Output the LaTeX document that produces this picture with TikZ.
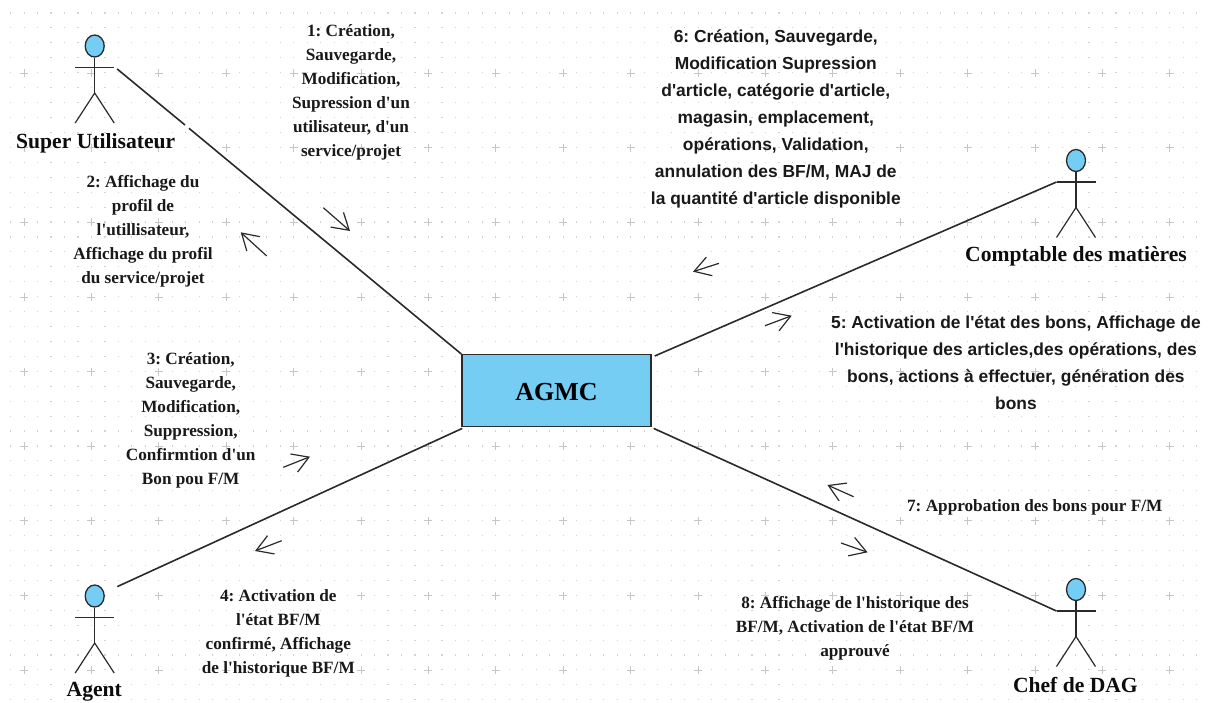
\documentclass[tikz,border=0pt]{standalone}
\usepackage{fontspec}
\setmainfont{Liberation Serif}
\newfontfamily\arialfont{Liberation Sans}
\usetikzlibrary{shapes.geometric,arrows.meta}
\definecolor{actorblue}{HTML}{76CDF4}
\definecolor{inkline}{HTML}{2A2A2A}
\definecolor{griddot}{HTML}{D2D2D2}
\definecolor{gridcross}{HTML}{C6C6C6}
\newcommand{\sq}{\textquotesingle}
\tikzset{
  x=1pt,y=-1pt,
  actorhead/.style={ellipse,draw=inkline,fill=actorblue,line width=1.3pt,minimum width=19pt,minimum height=22pt,inner sep=0pt},
  actorlimb/.style={draw=inkline,line width=1.2pt},
  actorname/.style={font=\fontsize{21.6}{24}\selectfont\bfseries,text=black!95,inner sep=0pt},
  linkline/.style={draw=inkline,line width=1.6pt},
  flow/.style={draw=inkline,line width=1.2pt,-{Straight Barb[length=16pt,width=19.5pt,line width=1.2pt]}},
  serifnote/.style={align=center,inner sep=0pt,text=black!90,font=\frenchspacing\fontsize{17.2}{24}\selectfont\bfseries},
  sansnote/.style={align=center,inner sep=0pt,text=black!90,font=\frenchspacing\arialfont\fontsize{17.4}{27}\selectfont\bfseries},
  system/.style={draw=inkline,fill=actorblue,line width=1.4pt,minimum width=189pt,minimum height=72pt,inner sep=0pt,font=\fontsize{26}{30}\selectfont\bfseries},
  pics/actor/.style={code={
    \node[actorhead] (-head) at (0,0) {};
    \draw[actorlimb] (-head.south) -- (0,47);
    \draw[actorlimb] (-19.5,21.5) -- (19.5,21.5);
    \draw[actorlimb] (-19.5,77) -- (0,47) -- (19.5,77);
    \coordinate (-left) at (-19.5,21.5);
    \coordinate (-right) at (22.5,23);
    \coordinate (-upright) at (22.6,-9.4);
  }}
}
\begin{document}
\begin{tikzpicture}
\useasboundingbox (0,0) rectangle (1209,702);
\fill[white] (0,0) rectangle (1209,702);
% background grid
\foreach \i in {0,...,88}{
  \foreach \j in {0,...,46}{
    \pgfmathsetmacro{\gx}{10.6+13.48*\i}
    \pgfmathsetmacro{\gy}{13+14.93*\j}
    \fill[griddot] (\gx-0.55,\gy-0.55) rectangle (\gx+0.55,\gy+0.55);
  }
}
\foreach \i in {0,...,17}{
  \foreach \j in {0,...,8}{
    \pgfmathsetmacro{\gx}{24+67.4*\i}
    \pgfmathsetmacro{\gy}{73+74.65*\j}
    \draw[gridcross,line width=0.9pt] (\gx-4,\gy) -- (\gx+4,\gy) (\gx,\gy-4) -- (\gx,\gy+4);
  }
}
% system
\node[system,text depth=0pt,text height=20pt] (agmc) at (556.5,390.7) {AGMC};
% actors
\pic (su) at (94.7,46) {actor};
\pic (cm) at (1076,160.5) {actor};
\pic (ag) at (94.7,596) {actor};
\pic (cd) at (1076,589.5) {actor};
\node[actorname] (suname) at (95.7,143.5) {Super Utilisateur};
\node[actorname] (cmname) at (1076,256) {Comptable des matières};
\node[actorname] (agname) at (94.3,691.5) {Agent};
\node[actorname] (cdname) at (1075.4,685) {Chef de DAG};
% connectors
\coordinate (sugapa) at (185,125);
\coordinate (sugapb) at (189,128.3);
\draw[linkline] (su-right) -- (sugapa) (sugapb) -- (agmc.north west);
\draw[linkline] (cm-left) -- ([shift={(3,2)}]agmc.north east);
\draw[linkline] (ag-upright) -- ([shift={(1,1)}]agmc.south west);
\draw[linkline] (cd-left) -- ([shift={(2,1)}]agmc.south east);
% message arrows
\draw[flow] (323.3,207.7) -- (350,231);
\draw[flow] (266.7,256) -- (240.7,232.3);
\draw[flow] (283.3,467.3) -- (310,456.7);
\draw[flow] (281.7,540.7) -- (255,551);
\draw[flow] (765,325.7) -- (791.7,315.7);
\draw[flow] (719,263.3) -- (693,271.7);
\draw[flow] (853.6,496.7) -- (827.4,485);
\draw[flow] (841,543) -- (867.6,552.3);
% notes
\node[serifnote] (n1) at (351,92.7) {1: Création,\\Sauvegarde,\\Modification,\\Supression d\sq un\\utilisateur, d\sq un\\service/projet};
\node[serifnote] (n2) at (143,231.5) {2: Affichage du\\profil de\\l\sq utillisateur,\\Affichage du profil\\du service/projet};
\node[serifnote] (n3) at (190.7,420.5) {3: Création,\\Sauvegarde,\\Modification,\\Suppression,\\Confirmtion d\sq un\\Bon pou F/M};
\node[serifnote] (n4) at (278.3,633.5) {4: Activation de\\l\sq état BF/M\\confirmé, Affichage\\de l\sq historique BF/M};
\node[sansnote] (n5) at (1015.9,363) {5: Activation de l'état des bons, Affichage de\\l'historique des articles,des opérations, des\\bons, actions à effectuer, génération des\\bons};
\node[sansnote] (n6) at (775.8,119) {6: Création, Sauvegarde,\\Modification Supression\\d'article, catégorie d'article,\\magasin, emplacement,\\opérations, Validation,\\annulation des BF/M, MAJ de\\la quantité d'article disponible};
\node[serifnote] (n7) at (1034.8,507.7) {7: Approbation des bons pour F/M};
\node[serifnote] (n8) at (855,628) {8: Affichage de l\sq historique des\\BF/M, Activation de l\sq état BF/M\\approuvé};
\end{tikzpicture}
\end{document}
